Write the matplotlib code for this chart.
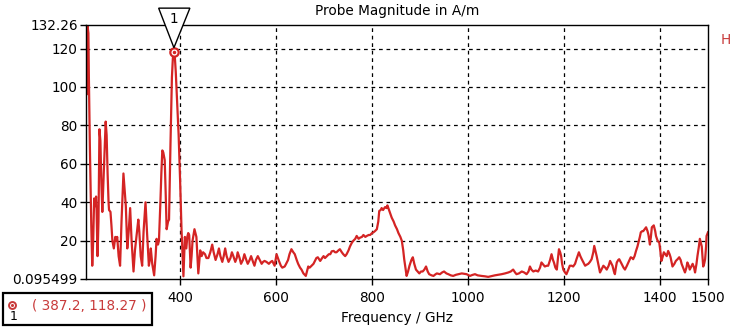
import numpy as np
import matplotlib.pyplot as plt
from matplotlib.patches import Polygon, Rectangle
from matplotlib.transforms import Affine2D, ScaledTranslation

# Probe H-field magnitude versus frequency
freq_ghz = [204, 205, 206, 207, 209, 210, 212, 214, 215, 217, 219, 221, 223, 225, 226, 228, 230, 232, 234, 236,
            238, 240, 242, 245, 247, 249, 251, 252, 255, 257, 259, 262, 265, 267, 269, 272, 275, 278, 282, 284,
            287, 290, 293, 296, 299, 303, 306, 310, 313, 315, 318, 321, 324, 328, 331, 335, 337, 339, 342, 346,
            349, 351, 354, 356, 359, 361, 363, 365, 368, 370, 372, 375, 377, 380, 383, 385, 387.2, 389, 391, 394,
            397, 400, 403, 407, 410, 413, 415, 417, 419, 422, 424, 426, 430, 432, 434, 436, 438, 442, 445, 448,
            452, 455, 459, 463, 467, 470, 474, 478, 481, 484, 488, 491, 494, 497, 501, 505, 508, 511, 515, 518,
            520, 524, 527, 531, 534, 538, 541, 545, 548, 552, 555, 558, 562, 566, 570, 573, 576, 580, 585, 589,
            592, 597, 601, 606, 610, 613, 618, 621, 625, 628, 632, 636, 639, 643, 646, 650, 653, 657, 662, 667,
            670, 674, 678, 681, 684, 687, 692, 696, 699, 702, 706, 710, 713, 716, 720, 723, 726, 730, 733, 737,
            740, 744, 747, 751, 754, 758, 761, 765, 768, 772, 775, 779, 782, 786, 789, 793, 796, 800, 803, 806,
            810, 813, 815, 818, 820, 823, 827, 830, 832, 836, 838, 841, 845, 848, 852, 855, 859, 862, 865, 867,
            870, 872, 875, 878, 882, 885, 888, 891.5, 895, 898.5, 902, 905.5, 909, 912.5, 916, 919, 924, 928, 932, 935,
            938, 941.5, 946, 950, 955, 959, 964, 969, 975, 980, 987, 992, 997, 1004, 1009, 1014.5, 1020, 1028, 1035, 1042,
            1049, 1056, 1063, 1070, 1077, 1084, 1089, 1094, 1098, 1101, 1106, 1112, 1117, 1122, 1126, 1129, 1132, 1136,
            1141, 1146, 1150, 1153, 1157, 1160, 1164, 1167, 1171, 1174, 1177, 1179, 1182, 1185, 1187, 1189.5, 1192, 1194,
            1196, 1198.5, 1202, 1205, 1209, 1212, 1216, 1219, 1223, 1226, 1229, 1231, 1234, 1237, 1241, 1244, 1247,
            1250.6, 1254, 1257.5, 1261, 1263, 1266, 1268, 1272, 1275, 1278, 1282, 1286, 1289, 1293, 1296, 1299, 1301,
            1304, 1306, 1308, 1310, 1313, 1315, 1318, 1320, 1324, 1327, 1331, 1334, 1337, 1339, 1342, 1344, 1347, 1350,
            1353, 1355, 1358, 1360, 1363, 1365, 1368, 1371, 1374, 1376, 1379, 1381, 1383, 1385, 1387, 1390, 1391.6, 1395,
            1398.5, 1401, 1403, 1406, 1408, 1411, 1414, 1417, 1420, 1422, 1424, 1426, 1430, 1433, 1437, 1440, 1443, 1445,
            1449, 1452, 1455, 1457, 1460, 1462, 1465, 1468, 1471, 1473, 1476, 1478, 1481, 1483, 1485, 1487, 1489, 1490,
            1492, 1494, 1496, 1497, 1500]
h_mag = [112, 96, 120, 132.26, 128, 105, 70, 40, 28, 7, 20, 42, 38, 43, 36, 12, 30, 78, 72, 50,
         35, 48, 60, 82, 75, 55, 40, 36, 35, 28, 20, 16, 22, 20, 22, 12, 7, 30, 55, 48,
         38, 16, 25, 37, 20, 4, 15, 24, 31, 25, 12, 7, 25, 40, 25, 7, 10, 16, 8, 2,
         12, 21, 18, 20, 40, 55, 67, 66, 62, 45, 26, 30, 31, 70, 105, 115, 118.27, 116, 108, 92,
         75, 52, 26, 1.5, 22, 16, 22, 24, 23, 6, 12, 20, 26, 24, 22, 12, 3, 15, 12, 14,
         13, 11, 11, 14, 18, 14, 10, 13, 16, 12, 9, 12, 16, 12, 9, 11, 14, 12, 9, 11,
         14, 11, 8, 10, 13, 10, 8, 10, 12, 9, 7, 10, 12, 10, 8, 9, 9.5, 9, 8, 9,
         9.5, 7, 13, 9.5, 7, 6, 6.6, 8, 10, 13, 15.6, 14, 13, 10, 8, 6, 5, 3, 1.7, 6.6,
         6, 7, 8, 9.5, 11, 11.4, 9.5, 11, 12, 11, 12, 13, 13, 14.5, 14.7, 14, 14, 15, 15.6, 14,
         13, 12, 13, 15, 17, 19, 20, 21, 22.5, 21, 21.6, 22, 23, 22, 22.5, 23, 23, 24, 24.4, 25,
         26, 30, 35.5, 36, 37, 36, 37.5, 37, 38.4, 35.5, 34, 32, 30, 28, 26, 24, 22, 20, 15, 10.4,
         5, 1.7, 4, 7, 10, 11.4, 8, 5, 4, 3, 4, 4, 5, 6.6, 4, 2.6, 2, 1.7, 2.5, 3,
         2.8, 2.6, 3.5, 4, 3, 2.6, 2, 1.7, 2.3, 2.6, 3, 2.8, 2.6, 1.7, 2.2, 2.6, 2, 1.7, 1.5, 1.2,
         1.6, 2, 2.3, 2.6, 3, 3.5, 4, 5, 3.5, 2.6, 3, 4, 3.5, 2.6, 4, 6.6, 5, 4,
         4.5, 4, 6, 8.7, 7.5, 6.6, 7, 7, 10, 13, 10, 8.7, 6, 5, 10, 15.6, 14, 12,
         8, 5, 3.5, 2.6, 5, 7, 7, 6.6, 8, 10.4, 12.5, 14, 12, 10.4, 8.5, 7, 7.5,
         8, 9, 10.4, 14, 17.3, 14, 12, 7, 3.5, 5, 7, 6, 5, 7, 9.5, 8, 7,
         4, 2.6, 6, 8.7, 10, 10.4, 9, 8, 6, 5, 7, 8.7, 10.5, 11.4, 11, 10.4, 12, 14.7,
         17, 19, 22, 24.4, 25, 25, 26, 27, 25, 23, 18, 22, 27, 27.5, 28, 25, 22.5, 20,
         19, 14, 9.5, 12, 14, 13, 12, 14.7, 13, 11.4, 9, 6.6, 8, 9.5, 10.5, 11.4, 10, 8,
         5.5, 3.5, 6, 8.7, 7, 5, 6.5, 8, 6, 3.5, 8, 12, 17, 21, 19, 17, 10, 6.6,
         8, 10.4, 17, 22.5, 24.4]

y_min, y_max = 0.095499, 132.26
x_min, x_max = 204, 1500
x_ticks = [400, 600, 800, 1000, 1200, 1400, 1500]
y_ticks = [y_min, 20, 40, 60, 80, 100, 120, y_max]
y_tick_labels = ['0.095499', '20', '40', '60', '80', '100', '120', '132.26']
marker_f, marker_h = 387.2, 118.27

line_red = '#d42424'
text_red = '#c83a3a'
fs = 9.8

plt.rcParams['font.family'] = 'DejaVu Sans'
fig = plt.figure(figsize=(7.31, 3.32), dpi=100)
ax = fig.add_axes([86 / 731, 1 - 279 / 332, 622 / 731, 254 / 332])

ax.plot(freq_ghz, h_mag, color=line_red, lw=1.6, solid_joinstyle='round')
ax.set_xlim(x_min, x_max)
ax.set_ylim(y_min, y_max)

ax.set_xticks(x_ticks)
ax.set_xticklabels([str(t) for t in x_ticks], fontsize=fs)
ax.set_yticks(y_ticks)
ax.set_yticklabels(y_tick_labels, fontsize=fs)
ax.tick_params(axis='y', direction='out', length=4, width=1, pad=2)
ax.tick_params(axis='x', direction='out', length=4, width=1, pad=5)

# dashed grid only on the inner ticks
for t in x_ticks[:-1]:
    ax.axvline(t, color='black', lw=0.9, ls=(0, (3, 3)), zorder=1)
for t in y_ticks[1:-1]:
    ax.axhline(t, color='black', lw=0.9, ls=(0, (3, 3)), zorder=1)

for s in ax.spines.values():
    s.set_linewidth(1.0)

ax.set_title('Probe Magnitude in A/m', fontsize=fs, pad=7)
ax.set_xlabel('Frequency / GHz', fontsize=fs, labelpad=4)
fig.text(721 / 731, 1 - 40 / 332, 'H', color=text_red, fontsize=fs, va='center', ha='left')

# marker 1 on the curve
ax.plot([marker_f], [marker_h], marker='o', ms=6, mfc='white', mec=line_red, mew=1.6, zorder=5)
ax.plot([marker_f], [marker_h], marker='o', ms=1.5, color=line_red, zorder=6)
pt_trans = Affine2D().scale(1 / 72) + fig.dpi_scale_trans + ScaledTranslation(marker_f, marker_h, ax.transData)
tri = Polygon([(-11, 31.5), (11.5, 31.5), (0, 3)], closed=True, fill=True, fc='white',
              ec='black', lw=1.0, transform=pt_trans, clip_on=False, zorder=7)
ax.add_patch(tri)
ax.text(0, 23.5, '1', transform=pt_trans, ha='center', va='center', fontsize=fs, clip_on=False, zorder=8)

# marker readout box
fig.patches.append(Rectangle((3 / 731, 1 - 325 / 332), 149 / 731, 32 / 332, transform=fig.transFigure,
                             fill=False, ec='black', lw=1.6))
fig.lines.append(plt.Line2D([12 / 731], [1 - 305 / 332], transform=fig.transFigure, marker='o', ms=5,
                            mfc='white', mec=text_red, mew=1.4))
fig.lines.append(plt.Line2D([12 / 731], [1 - 305 / 332], transform=fig.transFigure, marker='o', ms=1.2,
                            color=text_red))
fig.text(14 / 731, 1 - 317 / 332, '1', fontsize=9, ha='center', va='center')
fig.text(32 / 731, 1 - 306 / 332, f'( {marker_f}, {marker_h} )', color=text_red, fontsize=fs,
         ha='left', va='center')

fig.savefig('out.png', dpi=100)
